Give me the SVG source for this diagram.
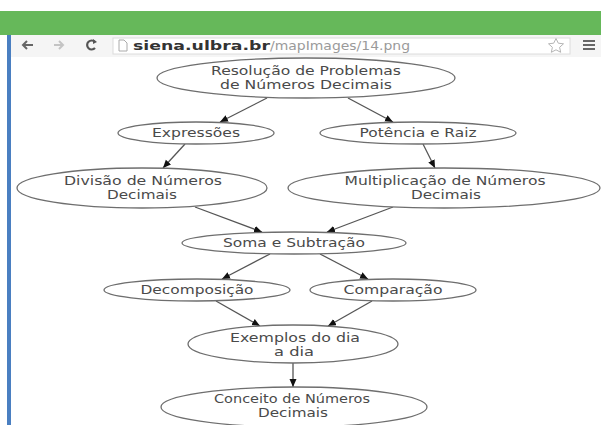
<svg xmlns="http://www.w3.org/2000/svg" width="601" height="425" viewBox="0 0 601 425">
<style>
.node ellipse{fill:#fff;stroke:#6e6e6e;stroke-width:1.3}
.node text{font-family:"DejaVu Sans","Liberation Sans",sans-serif;font-size:11.5px;fill:#4a4a4a;text-anchor:middle}
.edges line{stroke:#555;stroke-width:1.3;marker-end:url(#ah)}
.url{font-family:"DejaVu Sans","Liberation Sans",sans-serif;font-size:13px}
</style>
<defs>
<marker id="ah" markerUnits="userSpaceOnUse" markerWidth="9" markerHeight="8" refX="8" refY="3.5" orient="auto">
<path d="M0,0 L8,3.5 L0,7 z" fill="#111"/>
</marker>
</defs>
<rect x="0" y="0" width="601" height="425" fill="#fff"/>
<g id="browser-chrome">
<rect x="0" y="11" width="601" height="24" fill="#66b85a"/>
<rect x="7" y="35" width="594" height="22" fill="#f5f5f5"/>
<rect x="7" y="35" width="4" height="390" fill="#4a7fc1"/>
<rect x="113" y="38" width="457" height="16" fill="#fff" stroke="#dcdcdc"/>
<path d="M33,45 H23 M27,41 L23,45 L27,49" fill="none" stroke="#666" stroke-width="2"/>
<path d="M54,45 H63 M59,41 L63,45 L59,49" fill="none" stroke="#c4c4c4" stroke-width="2"/>
<path d="M95,42 A4.5,4.5 0 1 0 95,48" fill="none" stroke="#555" stroke-width="2.2"/>
<path d="M93,39 L97,42 L93,44 z" fill="#555"/>
<path d="M119,40 H124 L127,43 V51 H119 z" fill="#fff" stroke="#aaa" stroke-width="1"/>
<text class="url" x="133" y="50" font-weight="bold" fill="#333" textLength="137" lengthAdjust="spacingAndGlyphs">siena.ulbra.br</text>
<text class="url" x="270" y="50" fill="#9a9a9a" textLength="140" lengthAdjust="spacingAndGlyphs">/mapImages/14.png</text>
<polygon points="556,38.5 558.3,43.2 563.5,43.8 559.6,47.3 560.7,52.3 556,49.8 551.3,52.3 552.4,47.3 548.5,43.8 553.7,43.2" fill="none" stroke="#b5b5b5" stroke-width="1"/>
<path d="M583,41 H595 M583,45 H595 M583,49 H595" stroke="#666" stroke-width="2"/>
</g>
<g id="edges" class="edges">
<line x1="267" y1="98" x2="220" y2="122"/>
<line x1="348" y1="98" x2="393" y2="122"/>
<line x1="185" y1="144" x2="163" y2="168"/>
<line x1="423" y1="144" x2="435" y2="168"/>
<line x1="195" y1="207" x2="262" y2="232"/>
<line x1="393" y1="207" x2="327" y2="232"/>
<line x1="270" y1="254" x2="222" y2="279"/>
<line x1="320" y1="254" x2="368" y2="279"/>
<line x1="216" y1="301" x2="260" y2="326"/>
<line x1="372" y1="301" x2="328" y2="326"/>
<line x1="293" y1="363" x2="293" y2="387"/>
</g>
<g id="n1" class="node">
<ellipse cx="306" cy="78" rx="149" ry="20"/>
<text x="306" y="75" textLength="190" lengthAdjust="spacingAndGlyphs">Resolução de Problemas</text>
<text x="306" y="89" textLength="172" lengthAdjust="spacingAndGlyphs">de Números Decimais</text>
</g>
<g id="n2" class="node">
<ellipse cx="196" cy="133" rx="78" ry="11"/>
<text x="196" y="137" textLength="88" lengthAdjust="spacingAndGlyphs">Expressões</text>
</g>
<g id="n3" class="node">
<ellipse cx="418" cy="133" rx="98" ry="11"/>
<text x="418" y="137" textLength="117" lengthAdjust="spacingAndGlyphs">Potência e Raiz</text>
</g>
<g id="n4" class="node">
<ellipse cx="142" cy="188" rx="125" ry="20"/>
<text x="143" y="185" textLength="158" lengthAdjust="spacingAndGlyphs">Divisão de Números</text>
<text x="142" y="199" textLength="70" lengthAdjust="spacingAndGlyphs">Decimais</text>
</g>
<g id="n5" class="node">
<ellipse cx="444" cy="188" rx="156" ry="20"/>
<text x="445" y="185" textLength="201" lengthAdjust="spacingAndGlyphs">Multiplicação de Números</text>
<text x="446" y="199" textLength="70" lengthAdjust="spacingAndGlyphs">Decimais</text>
</g>
<g id="n6" class="node">
<ellipse cx="294" cy="243" rx="112" ry="11"/>
<text x="294" y="247" textLength="142" lengthAdjust="spacingAndGlyphs">Soma e Subtração</text>
</g>
<g id="n7" class="node">
<ellipse cx="197" cy="290" rx="93" ry="11"/>
<text x="197" y="294" textLength="113" lengthAdjust="spacingAndGlyphs">Decomposição</text>
</g>
<g id="n8" class="node">
<ellipse cx="393" cy="290" rx="83" ry="11"/>
<text x="393" y="294" textLength="99" lengthAdjust="spacingAndGlyphs">Comparação</text>
</g>
<g id="n9" class="node">
<ellipse cx="293" cy="344" rx="105" ry="19"/>
<text x="295" y="342" textLength="130" lengthAdjust="spacingAndGlyphs">Exemplos do dia</text>
<text x="294" y="356" textLength="40" lengthAdjust="spacingAndGlyphs">a dia</text>
</g>
<g id="n10" class="node">
<ellipse cx="294" cy="407" rx="133" ry="20"/>
<text x="292" y="403" textLength="156" lengthAdjust="spacingAndGlyphs">Conceito de Números</text>
<text x="293" y="417" textLength="70" lengthAdjust="spacingAndGlyphs">Decimais</text>
</g>
</svg>
